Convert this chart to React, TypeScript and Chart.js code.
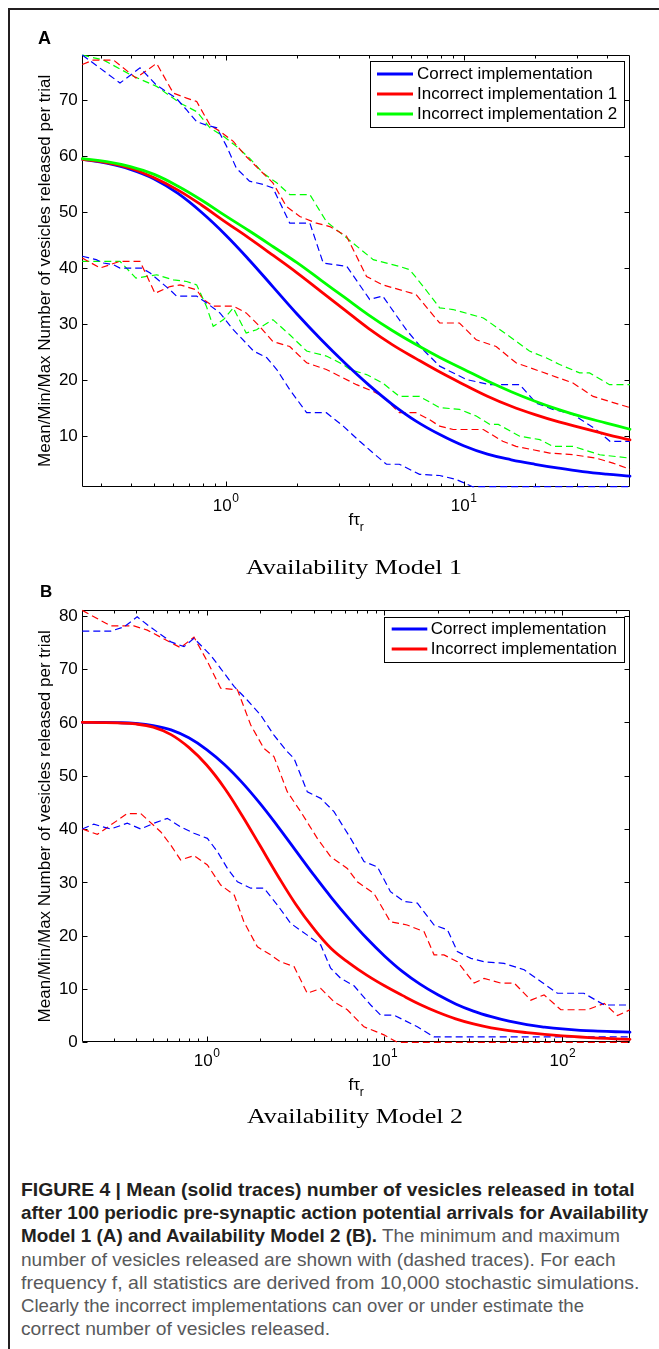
import React, { useEffect, useRef } from "react";
import { Chart, registerables } from "chart.js";

Chart.register(...registerables);

// ---------------- DATA ----------------
// Panel A (Availability Model 1)
const aXRange = [0.25, 50];
const aYRange = [1, 78];
const aYTicks = [10, 20, 30, 40, 50, 60, 70];
const aXTickValues = [1, 10];
const aXTickExponents = ["0", "1"];

const aMeanX = [0.25, 0.316, 0.398, 0.501, 0.631, 0.794, 1, 1.259, 1.585, 1.995, 2.512, 3.162, 3.981, 5.012, 6.31, 7.943, 10, 12.59, 15.85, 19.95, 25.12, 31.62, 39.81, 50];
const aCorrectMean = [59.4, 58.7, 57.6, 55.9, 53.3, 49.9, 45.9, 41.4, 36.6, 31.8, 27.3, 23.1, 19.2, 15.7, 12.7, 10.3, 8.3, 6.8, 5.8, 5.0, 4.3, 3.7, 3.25, 2.9];
const aIncorrect1Mean = [59.4, 58.8, 57.8, 56.1, 53.9, 51.2, 48.2, 45.3, 42.25, 39.15, 35.85, 32.55, 29.25, 26.35, 23.85, 21.45, 19.25, 17.15, 15.35, 13.85, 12.55, 11.45, 10.35, 9.35];
const aIncorrect2Mean = [59.5, 59.0, 58.1, 56.7, 54.6, 52.1, 49.3, 46.6, 43.8, 40.95, 37.85, 34.75, 31.65, 28.85, 26.35, 24.05, 21.95, 19.85, 17.95, 16.25, 14.75, 13.45, 12.35, 11.25];

const aCorrectMaxX = [0.25, 0.36, 0.437, 0.51, 0.62, 0.686, 0.756, 0.83, 0.92, 1.01, 1.11, 1.26, 1.44, 1.58, 1.86, 2.26, 2.57, 3.23, 4.03, 4.57, 5.74, 6.77, 7.93, 10.3, 12.9, 17.2, 20.2, 23.7, 28.8, 36, 41.2, 50];
const aCorrectMax = [78.0, 73.0, 75.7, 72.7, 70.3, 68.2, 66.1, 65.5, 65.0, 61.7, 57.8, 55.5, 54.9, 54.3, 48.0, 48.0, 40.9, 40.3, 34.4, 35.0, 29.0, 25.4, 22.5, 20.1, 19.2, 19.2, 15.9, 14.8, 13.9, 11.2, 9.1, 9.1];

const aIncorrect1MaxX = [0.25, 0.278, 0.338, 0.42, 0.513, 0.603, 0.686, 0.756, 0.86, 0.946, 1.077, 1.22, 1.39, 1.58, 1.8, 2.05, 2.41, 2.74, 3.22, 3.91, 4.57, 6.3, 7.93, 9.6, 11.3, 13.7, 16.6, 20.9, 28.8, 35, 50];
const aIncorrect1Max = [76.3, 77.1, 77.1, 73.9, 76.5, 71.2, 70.3, 69.7, 65.5, 64.4, 62.6, 59.9, 57.5, 55.2, 51.0, 49.2, 48.0, 47.4, 45.7, 38.5, 37.0, 35.3, 30.2, 30.2, 27.2, 26.0, 23.1, 21.6, 19.5, 17.1, 15.1];

const aIncorrect2MaxX = [0.25, 0.307, 0.41, 0.513, 0.645, 0.756, 0.86, 0.98, 1.11, 1.26, 1.44, 1.64, 1.86, 2.26, 2.65, 3.22, 4.17, 5.37, 5.94, 6.77, 7.93, 9.04, 12.1, 15.6, 18.9, 22.2, 25.3, 30.7, 33.8, 41, 50];
const aIncorrect2Max = [78.0, 77.1, 74.2, 72.4, 69.4, 67.9, 65.0, 63.5, 61.7, 59.6, 56.9, 55.2, 53.1, 53.1, 48.3, 45.4, 41.5, 40.3, 39.7, 36.7, 32.9, 32.6, 31.1, 27.8, 25.2, 24.0, 22.8, 21.3, 21.3, 19.2, 19.2];

const aCorrectMinX = [0.25, 0.286, 0.307, 0.338, 0.36, 0.444, 0.482, 0.584, 0.622, 0.756, 0.83, 0.946, 1.077, 1.22, 1.31, 1.49, 1.64, 1.86, 2.19, 2.65, 3.12, 3.66, 4.17, 4.74, 5.37, 6.53, 7.93, 9.3, 10.9, 50];
const aCorrectMin = [42.1, 41.5, 40.9, 40.6, 40.0, 40.0, 39.1, 36.1, 35.0, 35.0, 33.8, 32.0, 29.0, 26.6, 25.2, 24.0, 21.9, 18.3, 14.2, 14.2, 11.8, 9.1, 7.0, 5.0, 5.0, 3.2, 3.0, 2.3, 1.0, 1.0];

const aIncorrect1MinX = [0.25, 0.297, 0.327, 0.36, 0.437, 0.505, 0.584, 0.645, 0.756, 0.805, 0.887, 1.077, 1.22, 1.39, 1.58, 1.86, 2.19, 2.65, 3.12, 3.55, 4.17, 4.57, 5.37, 6.3, 7.16, 7.93, 9.04, 12.1, 14.6, 16.6, 19.5, 23, 28.8, 36, 42.4, 50];
const aIncorrect1Min = [41.8, 40.0, 40.6, 41.2, 41.2, 35.5, 36.7, 37.0, 36.1, 34.4, 33.2, 33.2, 32.0, 29.6, 26.9, 26.0, 23.1, 21.9, 20.4, 19.2, 18.0, 17.1, 14.2, 14.2, 13.0, 11.8, 11.2, 11.2, 9.1, 8.2, 7.6, 7.0, 6.7, 6.1, 5.2, 4.1];

const aIncorrect2MinX = [0.25, 0.36, 0.42, 0.465, 0.513, 0.603, 0.686, 0.756, 0.83, 0.887, 0.98, 1.077, 1.22, 1.35, 1.58, 1.86, 2.19, 2.65, 3.12, 3.33, 3.91, 4.57, 5.37, 6.53, 7.93, 9.6, 11.3, 12.9, 14.0, 17.2, 20.9, 23.7, 28.8, 37.3, 50];
const aIncorrect2Min = [41.2, 41.2, 38.2, 38.5, 38.8, 37.9, 37.6, 37.0, 33.2, 29.6, 30.8, 32.9, 28.4, 29.0, 30.8, 28.1, 25.2, 24.3, 22.8, 21.9, 21.0, 19.5, 17.1, 17.1, 15.1, 14.8, 13.6, 12.1, 12.1, 10.0, 9.4, 8.2, 8.2, 6.7, 6.1];

// Panel B (Availability Model 2)
const bXRange = [0.2, 240];
const bYRange = [0, 81];
const bYTicks = [0, 10, 20, 30, 40, 50, 60, 70, 80];
const bXTickValues = [1, 10, 100];
const bXTickExponents = ["0", "1", "2"];

const bMeanX = [0.2, 0.251, 0.316, 0.398, 0.501, 0.631, 0.794, 1, 1.259, 1.585, 1.995, 2.512, 3.162, 3.981, 5.012, 6.31, 7.943, 10, 12.59, 15.85, 19.95, 25.12, 31.62, 39.81, 50.12, 63.1, 79.43, 100, 125.9, 158.5, 199.5, 240];
const bCorrectMean = [60.0, 60.0, 59.95, 59.8, 59.4, 58.6, 57.1, 54.9, 52.1, 48.7, 44.8, 40.5, 36.0, 31.5, 27.2, 23.2, 19.5, 16.2, 13.3, 10.9, 8.9, 7.2, 5.85, 4.8, 3.95, 3.3, 2.85, 2.5, 2.25, 2.1, 1.98, 1.9];
const bIncorrectMean = [60.0, 59.96, 59.9, 59.7, 59.1, 57.7, 55.3, 52.0, 47.7, 42.5, 36.9, 31.25, 25.95, 21.4, 17.6, 14.9, 12.6, 10.6, 8.8, 7.1, 5.65, 4.4, 3.45, 2.72, 2.2, 1.82, 1.5, 1.22, 0.99, 0.8, 0.65, 0.56];

const bCorrectMaxX = [0.2, 0.289, 0.343, 0.407, 0.464, 0.63, 0.746, 0.849, 1.053, 1.2, 1.43, 1.69, 2.01, 2.39, 2.84, 3.1, 3.68, 4.38, 5.2, 6.45, 7.67, 9.12, 10.8, 12.9, 15.3, 19, 22.6, 25.7, 30.6, 36.3, 47, 61, 75.6, 93.8, 132, 172, 240];
const bCorrectMax = [77.1, 77.1, 77.9, 79.8, 78.3, 75.1, 74.2, 75.75, 72.6, 70.1, 66.7, 64.2, 61.4, 57.6, 54.5, 53.25, 47.0, 45.75, 43.25, 38.25, 33.9, 32.9, 28.25, 26.4, 26.1, 22.0, 21.1, 17.0, 15.75, 15.1, 14.8, 13.6, 11.4, 9.2, 9.2, 7.0, 7.0];

const bIncorrectMaxX = [0.2, 0.289, 0.39, 0.464, 0.714, 0.849, 1.01, 1.2, 1.49, 1.77, 2.1, 2.39, 2.84, 3.38, 4.19, 4.98, 6.18, 7.03, 8.73, 10.8, 13.4, 16.7, 19, 21.6, 25.7, 31.9, 36.3, 45.1, 53.6, 66.5, 78.9, 98, 138, 172, 204, 240];
const bIncorrectMax = [81.0, 78.1, 78.1, 77.3, 74.0, 76.0, 71.4, 66.4, 66.1, 59.5, 55.1, 53.6, 47.0, 43.25, 38.25, 34.8, 32.6, 30.1, 27.9, 22.6, 22.0, 20.75, 16.4, 16.4, 15.1, 11.1, 12.0, 11.1, 11.1, 7.9, 8.9, 6.1, 6.1, 7.3, 5.0, 6.1];

const bCorrectMinX = [0.2, 0.232, 0.289, 0.358, 0.426, 0.506, 0.601, 0.714, 0.849, 1.01, 1.15, 1.31, 1.49, 1.77, 2.1, 2.5, 2.97, 3.68, 4.38, 4.98, 5.67, 6.74, 8.36, 9.52, 11.3, 15.3, 19, 240];
const bCorrectMin = [40.0, 40.9, 40.0, 41.1, 40.0, 41.1, 42.0, 40.4, 39.2, 38.25, 35.75, 32.6, 30.1, 28.9, 28.9, 25.75, 22.3, 20.1, 18.25, 13.9, 12.0, 10.6, 7.0, 5.1, 5.1, 2.9, 1.0, 1.0];

const bIncorrectMinX = [0.2, 0.243, 0.289, 0.358, 0.426, 0.551, 0.628, 0.714, 0.849, 1.01, 1.2, 1.43, 1.62, 1.93, 2.29, 2.6, 3.1, 3.68, 4.38, 5.2, 6.18, 7.67, 9.93, 11.8, 240];
const bIncorrectMin = [40.0, 39.0, 40.75, 42.9, 42.9, 39.5, 37.0, 34.2, 35.0, 33.25, 29.5, 27.6, 22.6, 17.9, 16.4, 15.1, 14.2, 9.2, 10.1, 7.6, 6.1, 2.9, 1.4, 0, 0];

const aLegendLabels = ["Correct implementation", "Incorrect implementation 1", "Incorrect implementation 2"];
const bLegendLabels = ["Correct implementation", "Incorrect implementation"];

const Y_TITLE = "Mean/Min/Max Number of vesicles released per trial";

const CAPTION_LINES = [
  [{ t: "FIGURE 4 | Mean (solid traces) number of vesicles released in total", b: true }],
  [{ t: "after 100 periodic pre-synaptic action potential arrivals for Availability", b: true }],
  [
    { t: "Model 1 (A) and Availability Model 2 (B).", b: true },
    { t: " The minimum and maximum", b: false },
  ],
  [{ t: "number of vesicles released are shown with (dashed traces). For each", b: false }],
  [{ t: "frequency f, all statistics are derived from 10,000 stochastic simulations.", b: false }],
  [{ t: "Clearly the incorrect implementations can over or under estimate the", b: false }],
  [{ t: "correct number of vesicles released.", b: false }],
];
const CAPTION_RIGHT = [634.5, 649, 621, 615.5, 639.5, 584, 330];

// ---------------- STYLE ----------------
const BLUE = "#0000ff";
const RED = "#ff0000";
const GREEN = "#00ff00";
const SANS = '"Liberation Sans", Arial, Helvetica, sans-serif';
const SERIF = '"Liberation Serif", "Times New Roman", serif';
const W = 659;

function pts(xs: number[], ys: number[]) {
  return xs.map((x, i) => ({ x, y: ys[i] }));
}

function meanDs(xs: number[], ys: number[], color: string) {
  return {
    data: pts(xs, ys),
    borderColor: color,
    borderWidth: 2.8,
    pointRadius: 0,
    fill: false,
    tension: 0.4,
    borderCapStyle: "round",
    borderJoinStyle: "round",
    clip: 6,
  };
}
function dashDs(xs: number[], ys: number[], color: string) {
  return {
    data: pts(xs, ys),
    borderColor: color,
    borderWidth: 1.2,
    borderDash: [7, 4],
    pointRadius: 0,
    fill: false,
    tension: 0,
    clip: 6,
  };
}

const panelA = {
  top: 0,
  height: 582,
  area: { left: 82.3, right: 630, top: 55, bottom: 486.7 },
  xRange: aXRange,
  yRange: aYRange,
  yTicks: aYTicks,
  xTickValues: aXTickValues,
  xTickExponents: aXTickExponents,
  xLabelOffset: 20,
  xTitleOffset: 33.5,
  letter: "A",
  letterSize: 18,
  letterX: 38,
  letterBaseline: 43.5,
  title: "Availability Model 1",
  titleLeft: 246,
  titleWidth: 216,
  titleBaseline: 573.5,
  legend: {
    left: 370, right: 624, top: 60.7, bottom: 127.3,
    rows: [74, 94, 114], line0: 377, line1: 413, textX: 417,
    labels: aLegendLabels, colors: [BLUE, RED, GREEN],
  },
  datasets: [
    meanDs(aMeanX, aIncorrect2Mean, GREEN),
    meanDs(aMeanX, aIncorrect1Mean, RED),
    meanDs(aMeanX, aCorrectMean, BLUE),
    dashDs(aCorrectMaxX, aCorrectMax, BLUE),
    dashDs(aIncorrect1MaxX, aIncorrect1Max, RED),
    dashDs(aIncorrect2MaxX, aIncorrect2Max, GREEN),
    dashDs(aCorrectMinX, aCorrectMin, BLUE),
    dashDs(aIncorrect1MinX, aIncorrect1Min, RED),
    dashDs(aIncorrect2MinX, aIncorrect2Min, GREEN),
  ],
};

const panelB = {
  top: 582,
  height: 568,
  area: { left: 82.3, right: 630, top: 610.4, bottom: 1042.3 },
  xRange: bXRange,
  yRange: bYRange,
  yTicks: bYTicks,
  xTickValues: bXTickValues,
  xTickExponents: bXTickExponents,
  xLabelOffset: 19.5,
  xTitleOffset: 43,
  letter: "B",
  letterSize: 17,
  letterX: 40,
  letterBaseline: 596.7,
  title: "Availability Model 2",
  titleLeft: 247,
  titleWidth: 216,
  titleBaseline: 1122.5,
  legend: {
    left: 384.3, right: 624, top: 616.7, bottom: 661.7,
    rows: [629, 649], line0: 391.7, line1: 427.3, textX: 430.7,
    labels: bLegendLabels, colors: [BLUE, RED],
  },
  datasets: [
    meanDs(bMeanX, bIncorrectMean, RED),
    meanDs(bMeanX, bCorrectMean, BLUE),
    dashDs(bCorrectMaxX, bCorrectMax, BLUE),
    dashDs(bIncorrectMaxX, bIncorrectMax, RED),
    dashDs(bCorrectMinX, bCorrectMin, BLUE),
    dashDs(bIncorrectMinX, bIncorrectMin, RED),
  ],
};

function crisp(v: number) {
  return Math.round(v) + 0.5;
}

function decorPlugin(cfg: any) {
  const off = cfg.top;
  return {
    id: "figureDecor",
    beforeDatasetsDraw(chart: any) {
      const ctx: CanvasRenderingContext2D = chart.ctx;
      const a = chart.chartArea;
      const xs = chart.scales.x;
      const ys = chart.scales.y;
      const L = Math.round(a.left) + 0.5;
      const R = Math.round(a.right) - 0.5;
      const T = Math.round(a.top) + 0.5;
      const B = Math.round(a.bottom) - 0.5;
      ctx.save();
      ctx.strokeStyle = "#000";
      ctx.lineWidth = 1;
      ctx.setLineDash([]);
      ctx.beginPath();
      ctx.rect(L, T, R - L, B - T);
      ctx.stroke();

      // y ticks
      ctx.beginPath();
      cfg.yTicks.forEach((v: number) => {
        const py = crisp(ys.getPixelForValue(v));
        ctx.moveTo(L, py);
        ctx.lineTo(L + 5, py);
        ctx.moveTo(R, py);
        ctx.lineTo(R - 5, py);
      });
      // x ticks (log, with minors)
      const [xmin, xmax] = cfg.xRange;
      const k0 = Math.floor(Math.log10(xmin));
      const k1 = Math.ceil(Math.log10(xmax));
      for (let k = k0; k <= k1; k++) {
        for (let m = 1; m <= 9; m++) {
          const v = m * Math.pow(10, k);
          if (v <= xmin * 1.0001 || v >= xmax * 0.9999) continue;
          const px = crisp(xs.getPixelForValue(v));
          const len = m === 1 ? 5 : 3;
          ctx.moveTo(px, B);
          ctx.lineTo(px, B - len);
          ctx.moveTo(px, T);
          ctx.lineTo(px, T + len);
        }
      }
      ctx.stroke();

      ctx.fillStyle = "#000";
      // y tick labels
      ctx.font = `17px ${SANS}`;
      ctx.textAlign = "right";
      ctx.textBaseline = "middle";
      cfg.yTicks.forEach((v: number) => {
        const py = ys.getPixelForValue(v);
        ctx.fillText(String(v), a.left - 4.5, py + 0.5);
      });

      // x tick labels: 10^k
      ctx.textAlign = "left";
      const cyL = a.bottom + cfg.xLabelOffset;
      cfg.xTickValues.forEach((v: number, i: number) => {
        const px = xs.getPixelForValue(v);
        ctx.font = `17px ${SANS}`;
        const w1 = ctx.measureText("10").width;
        ctx.font = `12px ${SANS}`;
        const w2 = ctx.measureText(cfg.xTickExponents[i]).width;
        const start = px - (w1 + w2) / 2;
        ctx.font = `17px ${SANS}`;
        ctx.fillText("10", start, cyL);
        ctx.font = `12px ${SANS}`;
        ctx.fillText(cfg.xTickExponents[i], start + w1 + 0.5, cyL - 8);
      });

      // x title f tau_r
      const cyT = a.bottom + cfg.xTitleOffset;
      const cx = (a.left + a.right) / 2;
      ctx.font = `17px ${SANS}`;
      const t1 = ctx.measureText("fτ").width;
      ctx.font = `12px ${SANS}`;
      const t2 = ctx.measureText("r").width;
      const s0 = cx - (t1 + t2) / 2;
      ctx.font = `17px ${SANS}`;
      ctx.fillText("fτ", s0, cyT);
      ctx.font = `12px ${SANS}`;
      ctx.fillText("r", s0 + t1, cyT + 7);

      // y title
      ctx.save();
      ctx.translate(45, (a.top + a.bottom) / 2);
      ctx.rotate(-Math.PI / 2);
      ctx.textAlign = "center";
      ctx.textBaseline = "middle";
      ctx.font = `17px ${SANS}`;
      ctx.fillText(Y_TITLE, 0, 0);
      ctx.restore();

      // panel letter
      ctx.textAlign = "left";
      ctx.textBaseline = "alphabetic";
      ctx.font = `bold ${cfg.letterSize}px ${SANS}`;
      ctx.fillText(cfg.letter, cfg.letterX, cfg.letterBaseline - off);

      // panel title (serif)
      ctx.font = `22px ${SERIF}`;
      const tw = ctx.measureText(cfg.title).width;
      ctx.save();
      ctx.translate(cfg.titleLeft, cfg.titleBaseline - off);
      ctx.scale(cfg.titleWidth / tw, 1);
      ctx.fillText(cfg.title, 0, 0);
      ctx.restore();

      ctx.restore();
    },
    afterDatasetsDraw(chart: any) {
      const ctx: CanvasRenderingContext2D = chart.ctx;
      const lg = cfg.legend;
      ctx.save();
      ctx.setLineDash([]);
      const x0 = crisp(lg.left);
      const x1 = crisp(lg.right);
      const y0 = crisp(lg.top - off);
      const y1 = crisp(lg.bottom - off);
      ctx.fillStyle = "#fff";
      ctx.fillRect(x0, y0, x1 - x0, y1 - y0);
      ctx.strokeStyle = "#000";
      ctx.lineWidth = 1;
      ctx.strokeRect(x0, y0, x1 - x0, y1 - y0);
      ctx.font = `17px ${SANS}`;
      ctx.textAlign = "left";
      ctx.textBaseline = "middle";
      lg.labels.forEach((label: string, i: number) => {
        const y = lg.rows[i] - off;
        ctx.strokeStyle = lg.colors[i];
        ctx.lineWidth = 3;
        ctx.beginPath();
        ctx.moveTo(lg.line0, y);
        ctx.lineTo(lg.line1, y);
        ctx.stroke();
        ctx.fillStyle = "#000";
        ctx.fillText(label, lg.textX, y + 0.5);
      });
      ctx.restore();
    },
  };
}

function Panel({ cfg }: { cfg: any }) {
  const ref = useRef<HTMLCanvasElement>(null);
  useEffect(() => {
    const canvas = ref.current;
    if (!canvas) return;
    const a = cfg.area;
    const chart = new Chart(canvas, {
      type: "line",
      data: { datasets: cfg.datasets },
      options: {
        responsive: false,
        maintainAspectRatio: false,
        animation: false,
        devicePixelRatio: 1,
        events: [],
        layout: {
          padding: {
            left: a.left,
            right: W - a.right,
            top: a.top - cfg.top,
            bottom: cfg.top + cfg.height - a.bottom,
          },
        },
        plugins: { legend: { display: false }, tooltip: { enabled: false }, title: { display: false } },
        scales: {
          x: { type: "logarithmic", min: cfg.xRange[0], max: cfg.xRange[1], display: false },
          y: { type: "linear", min: cfg.yRange[0], max: cfg.yRange[1], display: false },
        },
        elements: { point: { radius: 0 } },
      } as any,
      plugins: [decorPlugin(cfg)],
    });
    return () => chart.destroy();
  }, [cfg]);
  return (
    <canvas
      ref={ref}
      width={W}
      height={cfg.height}
      style={{ position: "absolute", left: 0, top: cfg.top, width: W, height: cfg.height, display: "block" }}
    />
  );
}

let measureCtx: CanvasRenderingContext2D | null = null;
function measure(text: string, font: string) {
  if (!measureCtx) measureCtx = document.createElement("canvas").getContext("2d");
  measureCtx!.font = font;
  return measureCtx!.measureText(text).width;
}

const CAP_SIZE = 18.5;
const CAP_LEFT = 21;
const CAP_TOP = 1178;
const CAP_LH = 23.2;

function Caption() {
  return (
    <>
      {CAPTION_LINES.map((parts, i) => {
        const natural = parts.reduce(
          (s, p) => s + measure(p.t, `${p.b ? "bold " : ""}${CAP_SIZE}px ${SANS}`),
          0
        );
        const sx = (CAPTION_RIGHT[i] - CAP_LEFT) / natural;
        return (
          <div
            key={i}
            style={{
              position: "absolute",
              left: CAP_LEFT,
              top: CAP_TOP + CAP_LH * i,
              height: CAP_LH,
              lineHeight: `${CAP_LH}px`,
              whiteSpace: "pre",
              fontFamily: SANS,
              fontSize: CAP_SIZE,
              transform: `scaleX(${sx})`,
              transformOrigin: "0 0",
            }}
          >
            {parts.map((p, j) => (
              <span key={j} style={{ fontWeight: p.b ? 700 : 400, color: p.b ? "#231f20" : "#58595b" }}>
                {p.t}
              </span>
            ))}
          </div>
        );
      })}
    </>
  );
}

export default function App() {
  return (
    <div
      style={{
        position: "absolute",
        left: 0,
        top: 0,
        width: W,
        height: 1349,
        overflow: "hidden",
        background: "#fff",
      }}
    >
      <div style={{ position: "absolute", left: 8, top: 8, width: W - 8, height: 2, background: "#231f20" }} />
      <div style={{ position: "absolute", left: 8, top: 8, width: 2, height: 1349 - 8, background: "#231f20" }} />
      <Panel cfg={panelA} />
      <Panel cfg={panelB} />
      <Caption />
    </div>
  );
}
